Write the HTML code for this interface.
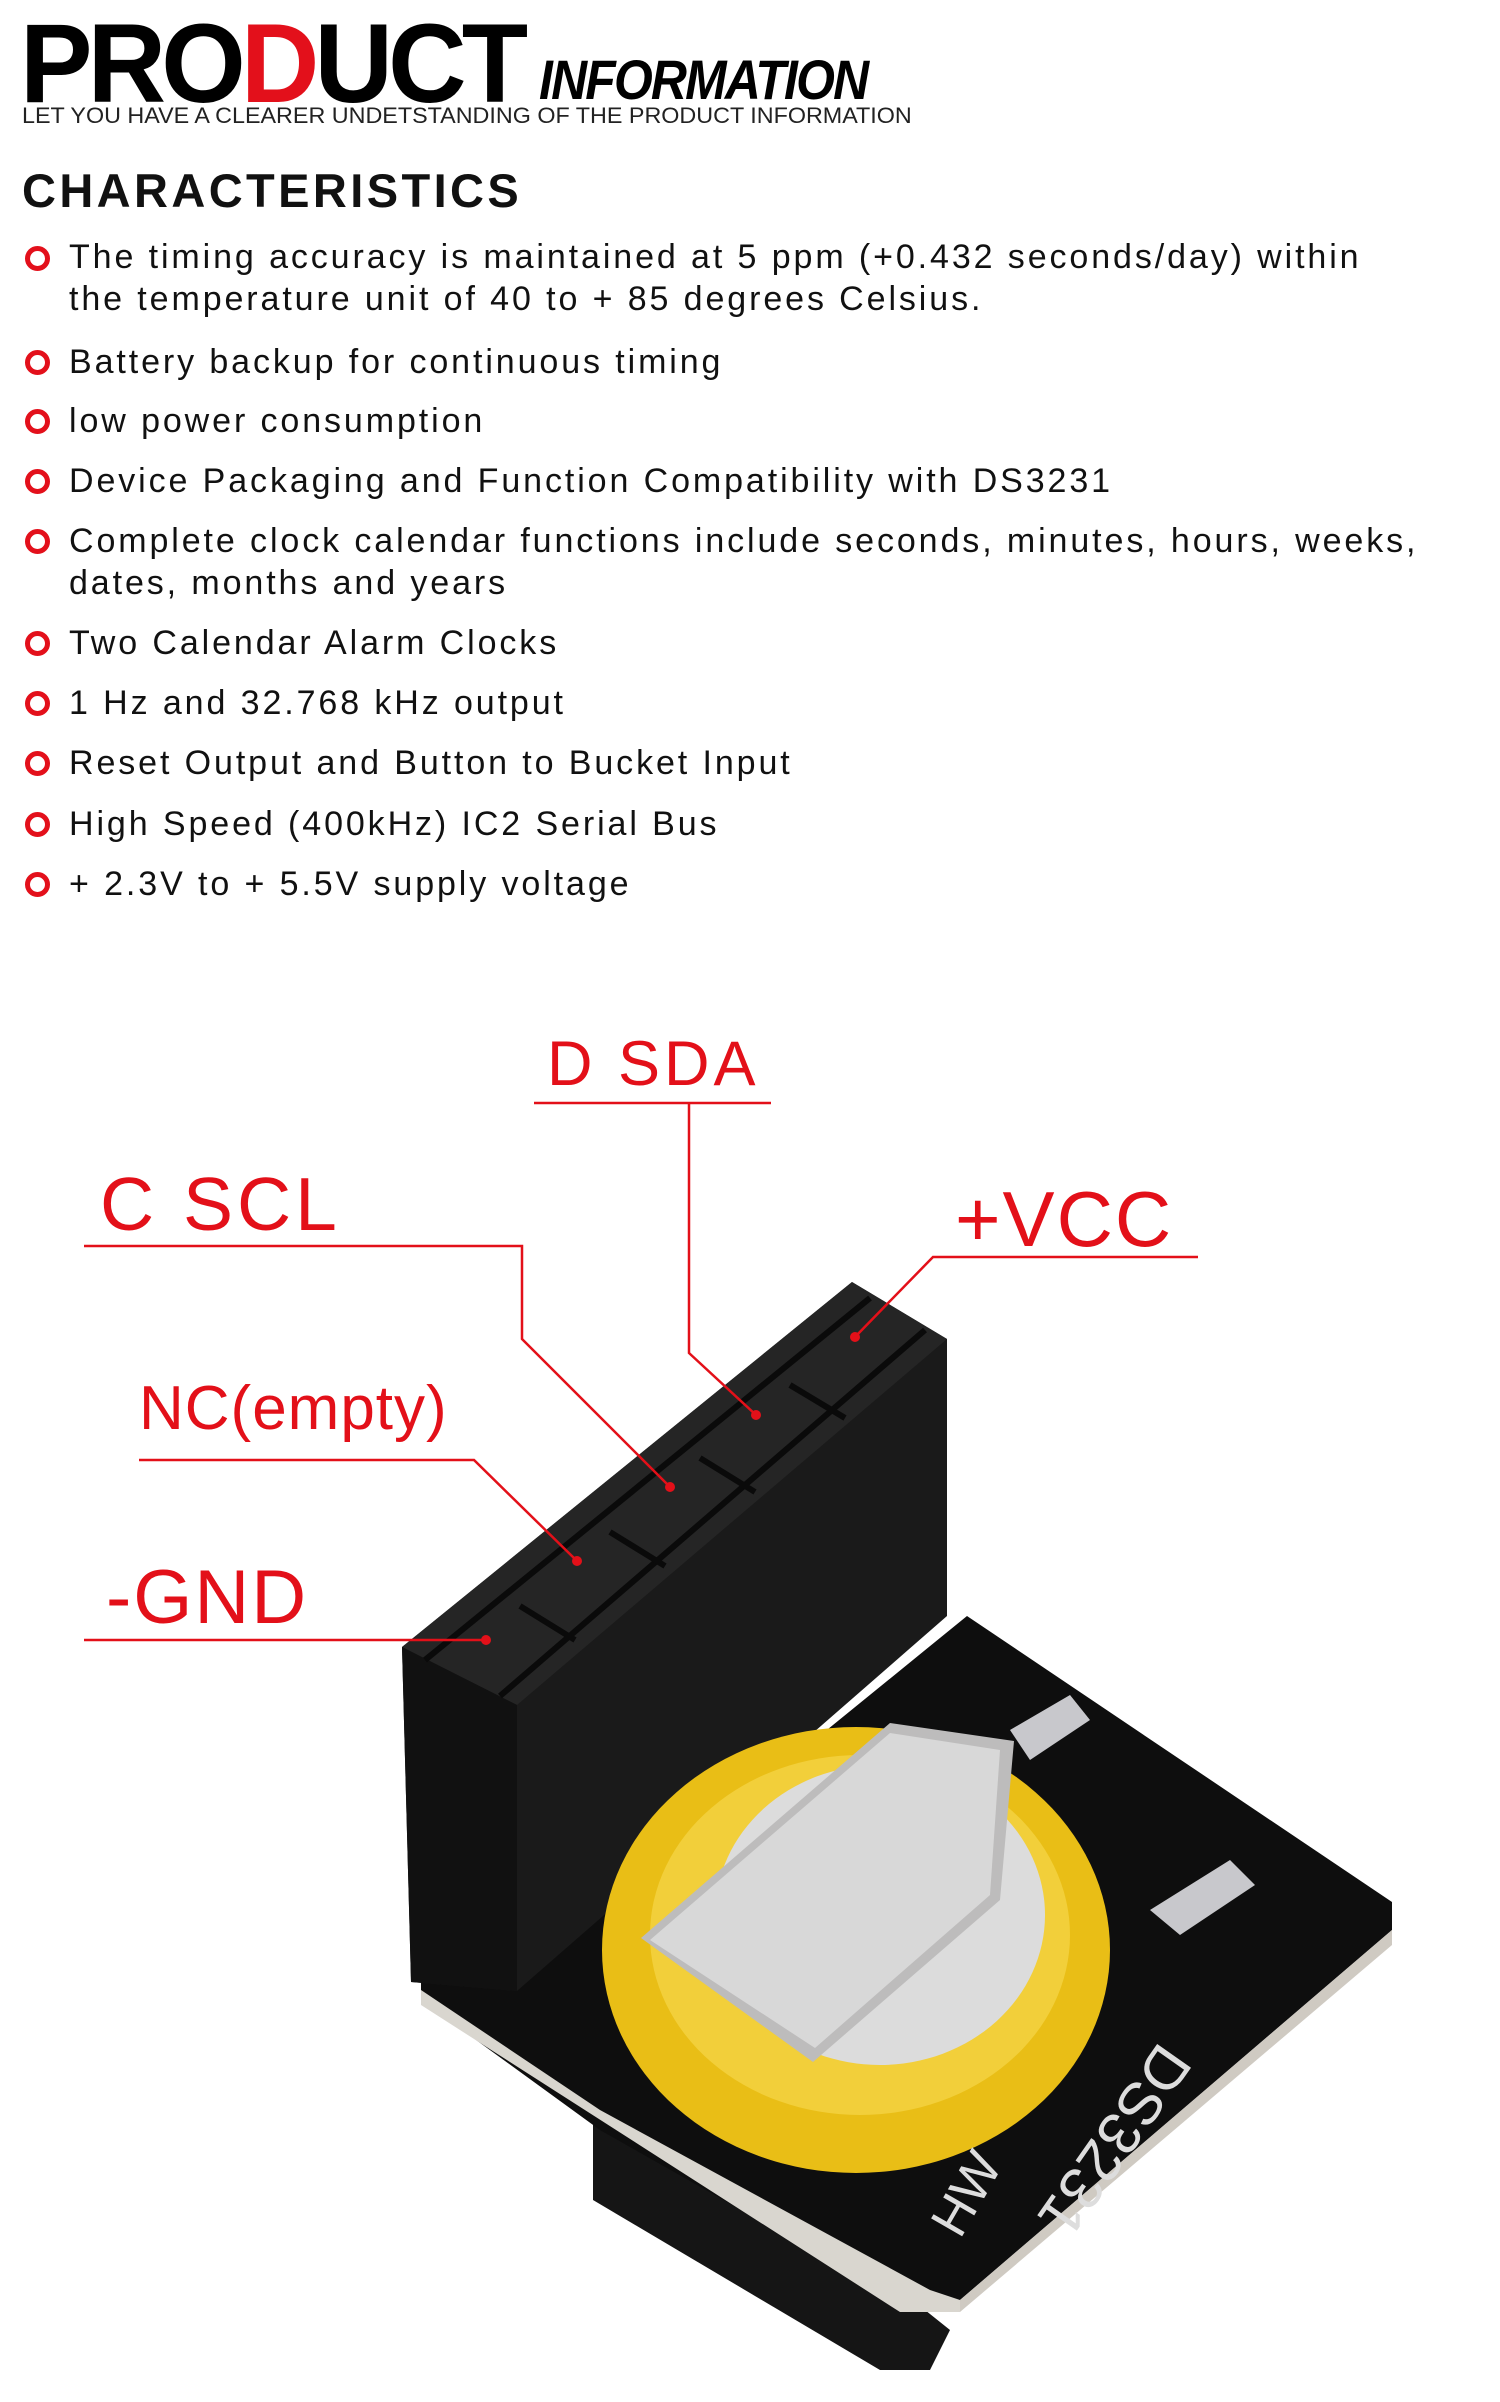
<!DOCTYPE html>
<html><head><meta charset="utf-8"><style>
body{margin:0;width:1500px;height:2402px;background:#fff;position:relative;overflow:hidden;font-family:"Liberation Sans",sans-serif}
.a{position:absolute;white-space:nowrap;line-height:1}
.b{position:absolute;left:25px;width:15px;height:15px;border:5px solid #e3101b;border-radius:50%}
.t{position:absolute;left:69px;font-size:34px;letter-spacing:2.9px;color:#111;line-height:42px;white-space:nowrap}
.r{color:#e31019;position:absolute;white-space:nowrap;line-height:1}
</style></head><body>
<div class="a" style="left:20px;top:8px;font-size:112px;font-weight:bold;letter-spacing:-5px;transform:scaleX(0.97);transform-origin:left">PRO<span style="color:#e3101b">D</span>UCT</div>
<div class="a" style="left:539px;top:52px;font-size:56px;font-weight:bold;font-style:italic;transform:scaleX(0.89);transform-origin:left;letter-spacing:-2px">INFORMATION</div>
<div class="a" style="left:22px;top:105px;font-size:22px;transform:scaleX(1.06);transform-origin:left;color:#222">LET YOU HAVE A CLEARER UNDETSTANDING OF THE PRODUCT INFORMATION</div>
<div class="a" style="left:22px;top:167px;font-size:47px;font-weight:bold;letter-spacing:3.4px;color:#111">CHARACTERISTICS</div>

<div class="b" style="top:246px"></div><div class="t" style="top:236px">The timing accuracy is maintained at 5 ppm (+0.432 seconds/day) within<br>the temperature unit of 40 to + 85 degrees Celsius.</div>
<div class="b" style="top:350px"></div><div class="t" style="top:341px">Battery backup for continuous timing</div>
<div class="b" style="top:409px"></div><div class="t" style="top:400px">low power consumption</div>
<div class="b" style="top:469px"></div><div class="t" style="top:460px">Device Packaging and Function Compatibility with DS3231</div>
<div class="b" style="top:529px"></div><div class="t" style="top:520px">Complete clock calendar functions include seconds, minutes, hours, weeks,<br>dates, months and years</div>
<div class="b" style="top:631px"></div><div class="t" style="top:622px">Two Calendar Alarm Clocks</div>
<div class="b" style="top:691px"></div><div class="t" style="top:682px">1 Hz and 32.768 kHz output</div>
<div class="b" style="top:751px"></div><div class="t" style="top:742px">Reset Output and Button to Bucket Input</div>
<div class="b" style="top:812px"></div><div class="t" style="top:803px">High Speed (400kHz) IC2 Serial Bus</div>
<div class="b" style="top:872px"></div><div class="t" style="top:863px">+ 2.3V to + 5.5V supply voltage</div>

<svg style="position:absolute;left:0;top:0" width="1500" height="2402">
<polygon points="593,2110 900,2290 950,2330 930,2370 880,2370 593,2200" fill="#151515"/>
<polygon points="421,1964 517,1982 967,1616 1392,1902 1392,1930 960,2300 900,2300 600,2130 421,2000" fill="#0e0e0e"/>
<polygon points="421,1990 600,2110 930,2290 960,2300 960,2312 900,2312 421,2005" fill="#d9d6cf"/>
<polygon points="960,2300 1392,1930 1392,1945 960,2312" fill="#cfcac2"/>
<polygon points="402,1647 852,1282 947,1339 947,1616 517,1991 411,1982" fill="#1a1a1a"/>
<polygon points="402,1647 852,1282 947,1339 517,1705" fill="#252525"/>
<polygon points="402,1647 517,1705 517,1991 411,1982" fill="#111"/>
<g stroke="#0a0a0a" stroke-width="6">
<line x1="425" y1="1660" x2="870" y2="1298"/><line x1="500" y1="1696" x2="925" y2="1330"/>
<line x1="520" y1="1606" x2="575" y2="1640"/><line x1="610" y1="1532" x2="665" y2="1566"/><line x1="700" y1="1458" x2="755" y2="1492"/><line x1="790" y1="1385" x2="845" y2="1418"/>
</g>
<polygon points="1010,1730 1070,1695 1090,1720 1030,1760" fill="#c8c8cc"/>
<polygon points="1150,1910 1230,1860 1255,1885 1180,1935" fill="#c8c8cc"/>
<ellipse cx="856" cy="1950" rx="254" ry="223" fill="#e9be16"/>
<ellipse cx="860" cy="1935" rx="210" ry="180" fill="#f2cf3a"/>
<ellipse cx="880" cy="1915" rx="165" ry="150" fill="#dcdcdc"/>
<polygon points="641,1938 890,1723 1014,1741 1000,1900 813,2062" fill="#bdbcbc"/>
<polygon points="650,1940 890,1733 1000,1750 990,1895 815,2048" fill="#d8d8d8"/>
<text x="1160" y="2040" font-size="60" fill="#ddd" font-family="Liberation Sans" transform="rotate(125 1160 2040)">DS3231</text>
<text x="960" y="2240" font-size="52" fill="#ddd" font-family="Liberation Sans" transform="rotate(-60 960 2240)">HW</text>
<g stroke="#e31019" stroke-width="2.5" fill="none">
<polyline points="534,1103 771,1103"/><polyline points="689,1103 689,1353 756,1415"/>
<polyline points="84,1246 522,1246 522,1339 670,1487"/>
<polyline points="1198,1257 933,1257 855,1337"/>
<polyline points="139,1460 474,1460 577,1561"/>
<polyline points="84,1640 486,1640"/>
</g>
<g fill="#e31019"><circle cx="756" cy="1415" r="5"/><circle cx="670" cy="1487" r="5"/><circle cx="855" cy="1337" r="5"/><circle cx="577" cy="1561" r="5"/><circle cx="486" cy="1640" r="5"/></g>
</svg>
<div class="r" style="left:547px;top:1033px;font-size:63px;letter-spacing:4px">D SDA</div>
<div class="r" style="left:100px;top:1167px;font-size:75px;letter-spacing:4px">C SCL</div>
<div class="r" style="left:955px;top:1180px;font-size:78px;letter-spacing:2px">+VCC</div>
<div class="r" style="left:139px;top:1378px;font-size:62px;letter-spacing:1px">NC(empty)</div>
<div class="r" style="left:106px;top:1560px;font-size:76px;letter-spacing:2px">-GND</div>
</body></html>
